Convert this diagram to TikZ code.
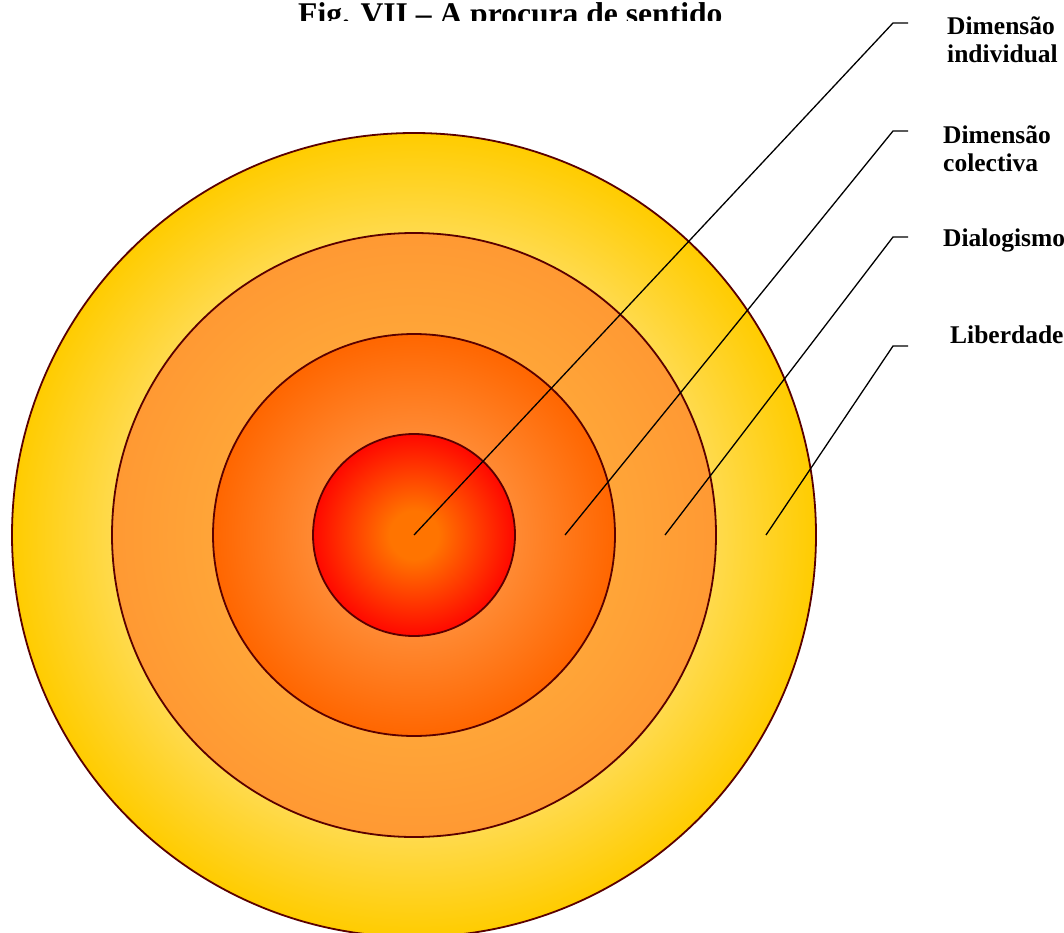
\documentclass[tikz,border=0pt]{standalone}
\usepackage{fontspec}
\setmainfont{Liberation Serif}

\definecolor{ringline}{HTML}{5A0000}
\definecolor{ylight}{HTML}{FFDA4C}
\definecolor{ydark}{HTML}{FFCC00}
\definecolor{olight}{HTML}{FFA538}
\definecolor{odark}{HTML}{FF9933}
\definecolor{rlight}{HTML}{FF8A33}
\definecolor{rdark}{HTML}{FF6600}
\definecolor{clight}{HTML}{FF7400}
\definecolor{cdark}{HTML}{FF0800}

% the middle 50bp of a shading covers the circle: edge at 25bp
\pgfdeclareradialshading{yring}{\pgfpoint{0bp}{0bp}}{color(0bp)=(ylight); color(18.8bp)=(ylight); color(25bp)=(ydark); color(50bp)=(ydark)}
\pgfdeclareradialshading{oring}{\pgfpoint{0bp}{0bp}}{color(0bp)=(olight); color(16.6bp)=(olight); color(25bp)=(odark); color(50bp)=(odark)}
\pgfdeclareradialshading{rring}{\pgfpoint{0bp}{0bp}}{color(0bp)=(rlight); color(12.5bp)=(rlight); color(25bp)=(rdark); color(50bp)=(rdark)}
\pgfdeclareradialshading{core}{\pgfpoint{0bp}{0bp}}{color(0bp)=(clight); color(6bp)=(clight); color(25bp)=(cdark); color(50bp)=(cdark)}

\begin{document}
\begin{tikzpicture}[x=1pt, y=-1pt,
  ring/.style={draw=ringline, line width=1.8pt},
  lead/.style={black, line width=1.3pt},
  lbl/.style={anchor=base west, inner sep=0pt, align=left, font=\fontsize{25.5}{28.5}\selectfont\bfseries}]
  \useasboundingbox (0,0) rectangle (1064,933);
  \clip (0,0) rectangle (1064,933);

  % title, cut at its lower edge
  \begin{scope}
    \clip (0,0) rectangle (1064,21);
    \node[anchor=base west, inner sep=0pt, font=\fontsize{31.6}{36}\selectfont\bfseries] (title) at (298,25) {Fig. VII -- A procura de sentido};
  \end{scope}

  % rings
  \coordinate (o) at (414,535);
  \shadedraw[ring, shading=yring] (o) circle[radius=402];
  \shadedraw[ring, shading=oring] (o) circle[radius=302];
  \shadedraw[ring, shading=rring] (o) circle[radius=201];
  \shadedraw[ring, shading=core] (o) circle[radius=101];

  % labels (base = last line)
  \node[lbl] (indiv) at (947,63) {Dimensão\\individual};
  \node[lbl] (colect) at (943,172) {Dimensão\\colectiva};
  \node[lbl] (dialog) at (943,246) {Dialogismo};
  \node[lbl] (liber) at (950,343) {Liberdade};

  % leaders
  \coordinate (s1) at (414,535);
  \coordinate (s2) at (565,535);
  \coordinate (s3) at (665,535);
  \coordinate (s4) at (766,535);
  \coordinate (k1) at (893,23);
  \coordinate (k2) at (893,131);
  \coordinate (k3) at (893,237);
  \coordinate (k4) at (893,346);
  \coordinate (t1) at (908,23);
  \coordinate (t2) at (908,131);
  \coordinate (t3) at (908,237);
  \coordinate (t4) at (908,346);
  \draw[lead] (s1) -- (k1) -- (t1);
  \draw[lead] (s2) -- (k2) -- (t2);
  \draw[lead] (s3) -- (k3) -- (t3);
  \draw[lead] (s4) -- (k4) -- (t4);
\end{tikzpicture}
\end{document}
